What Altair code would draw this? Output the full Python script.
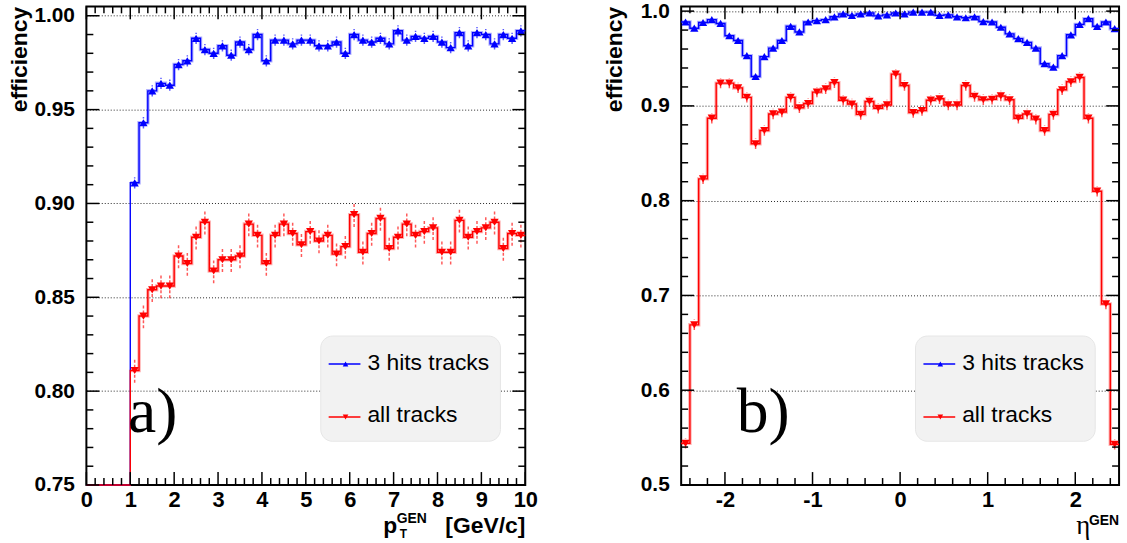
import altair as alt
import pandas as pd

# ---------------- data ----------------
SERIES = ["3 hits tracks", "all tracks"]
COLORS = ["#0000ff", "#ff0000"]
SHAPES = ["triangle-up", "triangle-down"]

# panel a) : efficiency vs pT (bins of 0.2 GeV/c from 0 to 10)
PT_FIRST_EDGE = 0.0
PT_BIN_WIDTH = 0.2
BLUE_PT = [0, 0, 0, 0, 0,
           0.911, 0.943, 0.960, 0.964, 0.963, 0.974, 0.976, 0.988, 0.982, 0.980,
           0.984, 0.979, 0.986, 0.982, 0.990, 0.976, 0.987, 0.987, 0.985, 0.987,
           0.987, 0.984, 0.984, 0.986, 0.980, 0.990, 0.987, 0.986, 0.988, 0.985,
           0.992, 0.987, 0.989, 0.988, 0.989, 0.986, 0.983, 0.991, 0.984, 0.991,
           0.990, 0.985, 0.990, 0.988, 0.992]
RED_PT = [0, 0, 0, 0, 0,
          0.811, 0.840, 0.854, 0.856, 0.856, 0.872, 0.868, 0.882, 0.890, 0.864,
          0.870, 0.870, 0.872, 0.889, 0.883, 0.868, 0.883, 0.889, 0.884, 0.878,
          0.885, 0.880, 0.883, 0.873, 0.877, 0.894, 0.874, 0.884, 0.892, 0.876,
          0.882, 0.889, 0.883, 0.885, 0.887, 0.874, 0.874, 0.891, 0.882, 0.885,
          0.887, 0.890, 0.876, 0.884, 0.883]
PT_ERR = [0.003, 0.0065]

# panel b) : efficiency vs eta (bins of 0.1 from -2.5 to 2.5)
ETA_FIRST_EDGE = -2.5
ETA_BIN_WIDTH = 0.1
BLUE_ETA = [0.9885, 0.982, 0.988, 0.991, 0.987, 0.974, 0.969, 0.953, 0.931, 0.952,
            0.961, 0.969, 0.984, 0.978, 0.9885, 0.990, 0.991, 0.994, 0.997, 0.9955,
            0.997, 0.998, 0.995, 0.996, 0.998, 0.997, 0.999, 0.999, 0.999, 0.9955,
            0.996, 0.994, 0.993, 0.994, 0.989, 0.9885, 0.983, 0.976, 0.971, 0.967,
            0.961, 0.9445, 0.941, 0.953, 0.975, 0.986, 0.992, 0.984, 0.9885, 0.9815]
RED_ETA = [0.544, 0.669, 0.823, 0.887, 0.924, 0.924, 0.919, 0.909, 0.860, 0.874,
           0.8915, 0.8935, 0.909, 0.898, 0.9025, 0.9145, 0.918, 0.9245, 0.906, 0.902,
           0.891, 0.9047, 0.8975, 0.901, 0.9335, 0.9215, 0.893, 0.895, 0.906, 0.9075,
           0.901, 0.901, 0.9215, 0.910, 0.9065, 0.907, 0.9105, 0.9065, 0.887, 0.8915,
           0.886, 0.874, 0.891, 0.917, 0.9255, 0.930, 0.887, 0.810, 0.691, 0.543]
ETA_ERR = [0.002, 0.0055]

PT_X_LABELS = [0, 1, 2, 3, 4, 5, 6, 7, 8, 9, 10]
ETA_X_LABELS = [-2, -1, 0, 1, 2]
PT_Y_LABELS = [0.75, 0.80, 0.85, 0.90, 0.95, 1.00]
ETA_Y_LABELS = [0.5, 0.6, 0.7, 0.8, 0.9, 1.0]

# ---------------- styling ----------------
FONT = "Liberation Sans"
W_L, W_R, H = 442, 441, 482
MAJ, MIN = 13, 7
ONE = pd.DataFrame({"k": [0]})


def hist_frames(first, width, series_vals, errs):
    steps, pts = [], []
    for name, vals, err in zip(SERIES, series_vals, errs):
        n = len(vals)
        for i, v in enumerate(vals):
            lo = first + i * width
            steps.append({"s": name, "x": lo, "y": v, "o": i})
            if v > 0:
                pts.append({"s": name, "x": lo + width / 2, "y": v,
                            "lo": v - err, "hi": v + err})
        steps.append({"s": name, "x": first + n * width, "y": vals[-1], "o": n})
    return pd.DataFrame(steps), pd.DataFrame(pts)


def tick_list(lo, hi, step):
    n = int(round((hi - lo) / step))
    return [round(lo + k * step, 4) for k in range(n + 1)]


def panel(first, width, vals, errs, xdom, ydom, xlabels, xminor, ylabels, yminor,
          yfmt, W, tag, tag_x, extra_title):
    steps, pts = hist_frames(first, width, vals, errs)
    xs = alt.Scale(domain=xdom, nice=False, zero=False)
    ys = alt.Scale(domain=ydom, nice=False, zero=False, clamp=True)
    xax = alt.Axis(values=xlabels, labelExpr="'' + datum.value", labelFlush=False,
                   ticks=False, tickSize=0, domain=False, grid=False, title=None,
                   labelFont=FONT, labelFontSize=22, labelFontWeight="bold",
                   labelColor="black", labelPadding=5)
    yax = alt.Axis(values=ylabels, format=yfmt, labelFlush=False, ticks=False,
                   tickSize=0, domain=False, grid=True, gridDash=[1, 2],
                   gridColor="black", gridWidth=1, gridOpacity=0.85,
                   title="efficiency", titleAngle=270, titleAlign="right",
                   titleBaseline="top", titleX=-78, titleY=0, titleFont=FONT,
                   titleFontSize=23, titleFontWeight="bold", titleColor="black",
                   labelFont=FONT, labelFontSize=21, labelFontWeight="bold",
                   labelColor="black", labelPadding=12)
    color = alt.Color("s:N", scale=alt.Scale(domain=SERIES, range=COLORS), legend=None)
    shape = alt.Shape("s:N", scale=alt.Scale(domain=SERIES, range=SHAPES), legend=None)
    X = alt.X("x:Q", scale=xs, axis=xax)
    Y = alt.Y("y:Q", scale=ys, axis=yax)

    layers = []
    halo = steps[steps["y"] > 0]
    for name in SERIES:
        layers.append(alt.Chart(halo[halo["s"] == name])
                      .mark_line(interpolate="step-after", strokeWidth=3.5, opacity=0.3)
                      .encode(x=X, y=Y, color=color, order=alt.Order("o:Q")))
        layers.append(alt.Chart(steps[steps["s"] == name])
                      .mark_line(interpolate="step-after", strokeWidth=1.4)
                      .encode(x=X, y=Y, color=color, order=alt.Order("o:Q")))
    layers.append(alt.Chart(pts).mark_rule(strokeDash=[3, 2], strokeWidth=1.5, opacity=0.65)
                  .encode(x=X, y=alt.Y("lo:Q", scale=ys, axis=yax), y2="hi:Q", color=color))
    layers.append(alt.Chart(pts).mark_point(filled=True, size=70, opacity=1)
                  .encode(x=X, y=Y, color=color, shape=shape))

    # inward ticks on all four sides
    xmaj = pd.DataFrame({"t": xlabels})
    xmin_df = pd.DataFrame({"t": [t for t in xminor if t not in xlabels]})
    ymaj = pd.DataFrame({"t": ylabels})
    ymin_df = pd.DataFrame({"t": [t for t in yminor
                                  if round(t, 4) not in [round(v, 4) for v in ylabels]]})
    for df, L in ((xmaj, MAJ), (xmin_df, MIN)):
        tx = alt.X("t:Q", scale=xs, axis=xax)
        layers.append(alt.Chart(df).mark_rule(color="black", strokeWidth=1.5)
                      .encode(x=tx, y=alt.value(H), y2=alt.value(H - L)))
        layers.append(alt.Chart(df).mark_rule(color="black", strokeWidth=1.5)
                      .encode(x=tx, y=alt.value(0), y2=alt.value(L)))
    for df, L in ((ymaj, MAJ), (ymin_df, MIN)):
        ty = alt.Y("t:Q", scale=ys, axis=yax)
        layers.append(alt.Chart(df).mark_rule(color="black", strokeWidth=1.5)
                      .encode(y=ty, x=alt.value(0), x2=alt.value(L)))
        layers.append(alt.Chart(df).mark_rule(color="black", strokeWidth=1.5)
                      .encode(y=ty, x=alt.value(W), x2=alt.value(W - L)))

    # legend box
    layers.append(alt.Chart(ONE).mark_rect(cornerRadius=12, fill="#f2f2f2",
                                           stroke="#e6e6e6", strokeWidth=1)
                  .encode(x=alt.value(236), x2=alt.value(417),
                          y=alt.value(332), y2=alt.value(438)))
    for name, c, shp, ly in zip(SERIES, COLORS, SHAPES, (360.2, 413.5)):
        layers.append(alt.Chart(ONE).mark_rule(color=c, strokeWidth=1.5)
                      .encode(x=alt.value(244), x2=alt.value(276), y=alt.value(ly)))
        layers.append(alt.Chart(ONE).mark_point(shape=shp, filled=True, size=32,
                                                color=c, opacity=1)
                      .encode(x=alt.value(261), y=alt.value(ly)))
        layers.append(alt.Chart(ONE).mark_text(align="left", baseline="alphabetic",
                                               font=FONT, fontSize=23, color="black")
                      .encode(x=alt.value(283), y=alt.value(ly + 5.5),
                              text=alt.value(name)))

    # panel tag a) / b)
    layers.append(alt.Chart(ONE).mark_text(align="left", baseline="alphabetic",
                                           font="Liberation Serif", fontSize=64,
                                           color="black")
                  .encode(x=alt.value(tag_x), y=alt.value(428.5), text=alt.value(tag)))
    layers.extend(extra_title)
    return alt.layer(*layers).properties(width=W, height=H)


def txt(s, x, y, size, align="left", weight="bold", font=FONT):
    return (alt.Chart(ONE).mark_text(align=align, baseline="alphabetic", font=font,
                                     fontSize=size, fontWeight=weight, color="black")
            .encode(x=alt.value(x), y=alt.value(y), text=alt.value(s)))


pt_title = [
    txt("p", 299, 530, 23),
    txt("T", 315.5, 535.5, 12),
    txt("GEN", 312.5, 520, 14),
    txt("[GeV/c]", W_L, 530, 23, align="right"),
]
eta_title = [
    txt("η", 398, 531.5, 27, weight="normal", font="Liberation Serif"),
    txt("GEN", W_R, 522.5, 14, align="right"),
]

left = panel(PT_FIRST_EDGE, PT_BIN_WIDTH, [BLUE_PT, RED_PT], PT_ERR,
             [0, 10], [0.75, 1.005], PT_X_LABELS, tick_list(0, 10, 0.2),
             PT_Y_LABELS, tick_list(0.75, 1.0, 0.01), ".2f", W_L, "a)", 42,
             pt_title)
right = panel(ETA_FIRST_EDGE, ETA_BIN_WIDTH, [BLUE_ETA, RED_ETA], ETA_ERR,
              [-2.5, 2.5], [0.5, 1.005], ETA_X_LABELS, tick_list(-2.4, 2.4, 0.2),
              ETA_Y_LABELS, tick_list(0.5, 1.0, 0.02), ".1f", W_R, "b)", 56,
              eta_title)

chart = (alt.hconcat(left, right, spacing=157, bounds="flush")
         .properties(padding={"left": 8, "top": -3.5, "right": 0, "bottom": 0},
                     background="white")
         .configure_view(stroke="black", strokeWidth=2))

chart.save("out.html", embed_options={"renderer": "svg", "actions": False})
